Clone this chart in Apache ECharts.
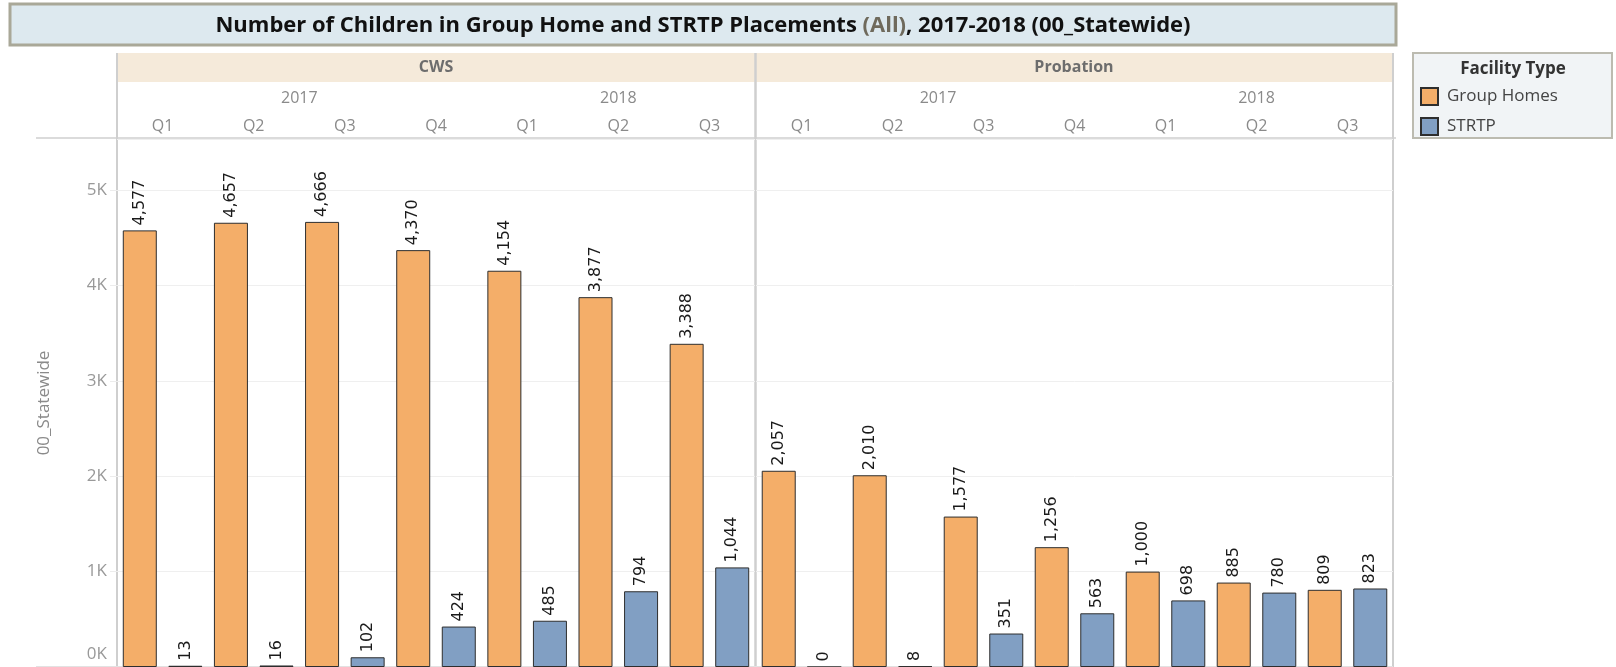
<!DOCTYPE html>
<html><head><meta charset="utf-8">
<script src="https://cdn.jsdelivr.net/npm/echarts@6/dist/echarts.min.js"></script>
<style>html,body{margin:0;padding:0;background:#fff}#c{width:1616px;height:667px}</style>
</head><body><div id="c"></div>
<script>
// ---- data ----
const panels = ['CWS', 'Probation'];
const quarters = ['Q1', 'Q2', 'Q3', 'Q4', 'Q1', 'Q2', 'Q3'];
const years = ['2017', '2018'];
const quartersPerYear = [4, 3];
const seriesNames = ['Group Homes', 'STRTP'];
const cwsGroupHomes = [4577, 4657, 4666, 4370, 4154, 3877, 3388];
const cwsStrtp = [13, 16, 102, 424, 485, 794, 1044];
const probGroupHomes = [2057, 2010, 1577, 1256, 1000, 885, 809];
const probStrtp = [0, 8, 351, 563, 698, 780, 823];
const yMax = 5535;
const yInterval = 1000;

// ---- style ----
const F = "'Open Sans', sans-serif";
const colors = ['#F4AE69', '#819FC3'];
const gray = '#8a8a8a';

const yearCenters = [];
let acc = 0;
quartersPerYear.forEach(n => { yearCenters.push(acc + n / 2); acc += n; });

const grids = [
  { left: 117, top: 139, width: 638, height: 528 },
  { left: 756, top: 139, width: 637, height: 528 }
];

const xAxes = [], yAxes = [], series = [];
const panelData = [[cwsGroupHomes, cwsStrtp], [probGroupHomes, probStrtp]];

grids.forEach((g, i) => {
  xAxes.push({
    type: 'category', gridIndex: i, data: quarters, position: 'top',
    axisLine: { show: false }, axisTick: { show: false },
    axisLabel: { color: gray, fontFamily: F, fontSize: 16, margin: 13, verticalAlign: 'middle' }
  });
  xAxes.push({
    type: 'value', gridIndex: i, position: 'top', min: 0, max: quarters.length,
    axisLine: { show: false }, axisTick: { show: false }, splitLine: { show: false },
    axisLabel: {
      customValues: yearCenters, color: gray, fontFamily: F, fontSize: 16, margin: 41,
      verticalAlign: 'middle',
      formatter: v => { const k = yearCenters.indexOf(v); return k >= 0 ? years[k] : ''; }
    }
  });
  yAxes.push({
    type: 'value', gridIndex: i, min: 0, max: yMax, interval: yInterval,
    name: i === 0 ? '00_Statewide' : '', nameLocation: 'middle', nameGap: 64, nameRotate: 90,
    nameTextStyle: { color: gray, fontFamily: F, fontSize: 17 },
    axisLine: { show: false },
    axisTick: { show: i === 0, length: 7, lineStyle: { color: '#ececec' } },
    splitLine: { show: true, lineStyle: { color: '#efefef', width: 1 } },
    axisLabel: {
      show: i === 0, showMaxLabel: false, color: '#999', fontFamily: F, fontSize: 17, margin: 10,
      formatter: v => v % yInterval !== 0 ? '' : (v === 0 ? '{z|0K}' : (v / 1000) + 'K'),
      rich: { z: { color: '#999', fontFamily: F, fontSize: 17, padding: [0, 0, 26, 0] } }
    }
  });
  panelData[i].forEach((arr, s) => {
    series.push({
      type: 'bar', name: seriesNames[s], xAxisIndex: i * 2, yAxisIndex: i,
      data: arr, barWidth: 34, barGap: '34%',
      itemStyle: { color: colors[s], borderColor: '#2e2e2e', borderWidth: 1 },
      label: {
        show: true, position: 'top', rotate: 90, align: 'left', verticalAlign: 'middle', distance: 5,
        color: '#1a1a1a', fontFamily: "'DejaVu Sans', sans-serif", fontSize: 16,
        formatter: p => p.value.toLocaleString('en-US')
      }
    });
  });
});

const graphic = [
  { type: 'rect', shape: { x: 10, y: 4, width: 1386, height: 41 },
    style: { fill: '#dde9ef', stroke: '#a9a898', lineWidth: 3 } },
  { type: 'text', x: 703, y: 26,
    style: {
      text: '{b|Number of Children in Group Home and STRTP Placements }{g|(All)}{b|, 2017-2018 (00_Statewide)}',
      align: 'center', verticalAlign: 'middle',
      rich: {
        b: { fontFamily: F, fontWeight: 'bold', fontSize: 22, fill: '#111' },
        g: { fontFamily: F, fontWeight: 'bold', fontSize: 22, fill: '#6f6a5c' }
      }
    } },
  { type: 'rect', shape: { x: 117, y: 53, width: 638, height: 29 }, style: { fill: '#f5eada' } },
  { type: 'rect', shape: { x: 756, y: 53, width: 637, height: 29 }, style: { fill: '#f5eada' } },
  { type: 'text', x: 436, y: 67, style: { text: panels[0], align: 'center', verticalAlign: 'middle', font: "bold 16px 'Open Sans'", fill: '#6d6d6d' } },
  { type: 'text', x: 1074, y: 67, style: { text: panels[1], align: 'center', verticalAlign: 'middle', font: "bold 16px 'Open Sans'", fill: '#6d6d6d' } },
  { type: 'line', shape: { x1: 36, y1: 138, x2: 1396, y2: 138 }, style: { stroke: '#cfcfcf', lineWidth: 1.5 } },
  { type: 'line', shape: { x1: 117, y1: 53, x2: 117, y2: 667 }, style: { stroke: '#cfcfcf', lineWidth: 2 } },
  { type: 'line', shape: { x1: 755.5, y1: 53, x2: 755.5, y2: 667 }, style: { stroke: '#cfcfcf', lineWidth: 2.5 } },
  { type: 'line', shape: { x1: 1393, y1: 53, x2: 1393, y2: 667 }, style: { stroke: '#cfcfcf', lineWidth: 2 } },
  { type: 'line', shape: { x1: 36, y1: 666.5, x2: 1393, y2: 666.5 }, style: { stroke: '#e2e2e2', lineWidth: 1 } },
  { type: 'rect', shape: { x: 1413, y: 53, width: 199, height: 85 },
    style: { fill: '#f1f4f6', stroke: '#bcbbb0', lineWidth: 2 } },
  { type: 'text', x: 1513, y: 69, style: { text: 'Facility Type', align: 'center', verticalAlign: 'middle', font: "bold 17px 'Open Sans'", fill: '#333' } }
];

const chart = echarts.init(document.getElementById('c'), null, { renderer: 'canvas' });
chart.setOption({
  animation: false,
  grid: grids,
  xAxis: xAxes,
  yAxis: yAxes,
  series: series,
  graphic: graphic,
  legend: {
    data: seriesNames, orient: 'vertical', left: 1420, top: 87, padding: 0,
    itemWidth: 17, itemHeight: 17, itemGap: 11, icon: 'rect', selectedMode: false,
    textStyle: { fontFamily: F, fontSize: 17, color: '#444', padding: [0, 0, 0, 4] }
  }
});
</script></body></html>
